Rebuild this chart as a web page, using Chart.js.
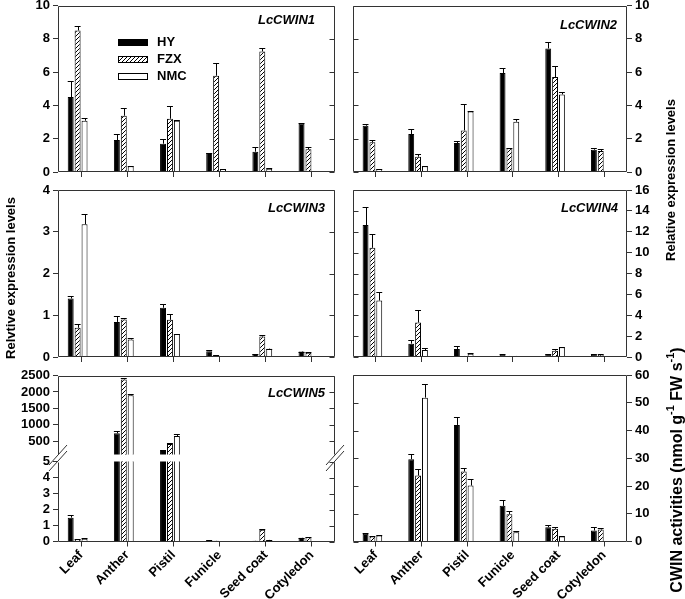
<!DOCTYPE html>
<html>
<head>
<meta charset="utf-8">
<script src="https://cdn.jsdelivr.net/npm/chart.js@4.4.1/dist/chart.umd.min.js"></script>
<style>
  body { margin: 0; background: #fff; }
  #wrap { position: relative; width: 685px; height: 599px; overflow: hidden; }
  #wrap canvas { position: absolute; left: 0; top: 0; }
</style>
</head>
<body>
<div id="wrap">
  <canvas id="p1" width="685" height="599"></canvas>
  <canvas id="p2" width="685" height="599"></canvas>
  <canvas id="p3" width="685" height="599"></canvas>
  <canvas id="p4" width="685" height="599"></canvas>
  <canvas id="p5a" width="685" height="599"></canvas>
  <canvas id="p5b" width="685" height="599"></canvas>
  <canvas id="p6" width="685" height="599"></canvas>
</div>
<script>
const tissues = ['Leaf', 'Anther', 'Pistil', 'Funicle', 'Seed coat', 'Cotyledon'];

// LcCWIN1
const w1HY = [4.5, 1.92, 1.7, 1.14, 1.22, 2.92];
const w1HYErr = [0.95, 0.38, 0.3, 0.02, 0.3, 0.04];
const w1FZX = [8.5, 3.38, 3.2, 5.78, 7.24, 1.36];
const w1FZXErr = [0.24, 0.48, 0.74, 0.74, 0.2, 0.16];
const w1NMC = [3.08, 0.34, 3.08, 0.18, 0.2, null];
const w1NMCErr = [0.16, 0.04, 0.03, 0.02, 0.02, null];

// LcCWIN2
const w2HY = [2.78, 2.28, 1.74, 5.94, 7.42, 1.34];
const w2HYErr = [0.08, 0.32, 0.12, 0.3, 0.36, 0.08];
const w2FZX = [1.78, 0.92, 2.5, 1.42, 5.7, 1.26];
const w2FZXErr = [0.12, 0.16, 1.58, 0.04, 0.64, 0.14];
const w2NMC = [0.18, 0.34, 3.64, 3.02, 4.66, null];
const w2NMCErr = [0, 0.02, 0.04, 0.18, 0.14, null];

// LcCWIN3
const w3HY = [1.4, 0.84, 1.18, 0.14, 0.07, 0.13];
const w3HYErr = [0.05, 0.15, 0.08, 0.02, 0, 0];
const w3FZX = [0.7, 0.9, 0.89, 0.04, 0.49, 0.1];
const w3FZXErr = [0.08, 0.03, 0.13, 0, 0.04, 0.02];
const w3NMC = [3.18, 0.42, 0.55, 0.02, 0.2, null];
const w3NMCErr = [0.24, 0.03, 0.01, 0, 0, null];

// LcCWIN4
const w4HY = [12.64, 1.28, 0.77, 0.22, 0.26, 0.26];
const w4HYErr = [1.76, 0.32, 0.32, 0.04, 0, 0.06];
const w4FZX = [10.46, 3.3, 0.1, 0.1, 0.6, 0.22];
const w4FZXErr = [1.28, 1.18, 0, 0, 0.17, 0.1];
const w4NMC = [5.41, 0.67, 0.32, 0.1, 0.93, null];
const w4NMCErr = [0.86, 0.23, 0.05, 0, 0.06, null];

// LcCWIN5 (broken axis)
const w5HY = [1.49, 745, 204, 0.08, 0.04, 0.23];
const w5HYErr = [0.15, 61, 20, 0.02, 0, 0.02];
const w5FZX = [0.13, 2378, 418, 0.04, 0.74, 0.27];
const w5FZXErr = [0.02, 40, 31, 0, 0.04, 0.03];
const w5NMC = [0.17, 1898, 663, null, 0.1, null];
const w5NMCErr = [0.02, 31, 61, null, 0.02, null];

// CWIN activities
const actHY = [2.76, 29.64, 42.0, 12.84, 5.16, 3.96];
const actHYErr = [0.2, 1.8, 3.0, 2.04, 0.96, 1.2];
const actFZX = [1.8, 23.76, 25.2, 9.84, 4.56, 4.32];
const actFZXErr = [0.2, 2.4, 1.2, 1.2, 0.84, 0.6];
const actNMC = [2.16, 51.84, 20.16, 3.36, 1.8, null];
const actNMCErr = [0.1, 4.8, 2.4, 0.6, 0.1, null];

// tick labels
const ticks1 = [0, 2, 4, 6, 8, 10];
const ticks2 = [0, 2, 4, 6, 8, 10];
const ticks3 = [0, 1, 2, 3, 4];
const ticks4 = [0, 2, 4, 6, 8, 10, 12, 14, 16];
const ticks5Low = [0, 1, 2, 3, 4, 5];
const ticks5High = [500, 1000, 1500, 2000, 2500];
const ticks6 = [0, 10, 20, 30, 40, 50, 60];

const W = 685, H = 599;
const Y_W = 45, X_H = 58;   // room kept for tick labels
const FONT = '"Liberation Sans", Arial, sans-serif';
Chart.defaults.font.family = FONT;
Chart.defaults.font.size = 13;
Chart.defaults.font.weight = 'bold';
Chart.defaults.color = '#000';

function makeHatch() {
  const c = document.createElement('canvas');
  c.width = c.height = 4;
  const g = c.getContext('2d');
  g.fillStyle = '#fff';
  g.fillRect(0, 0, 4, 4);
  g.strokeStyle = '#000';
  g.lineWidth = 1;
  g.beginPath();
  g.moveTo(0, 4); g.lineTo(4, 0);
  g.moveTo(-1, 1); g.lineTo(1, -1);
  g.moveTo(3, 5); g.lineTo(5, 3);
  g.stroke();
  return g.createPattern(c, 'repeat');
}
const hatch = makeHatch();

function barSets(hy, hyErr, fzx, fzxErr, nmc, nmcErr) {
  const common = { borderColor: '#000', borderWidth: 1, categoryPercentage: 0.6, barPercentage: 0.86, clip: 0 };
  return [
    Object.assign({ label: 'HY', data: hy, errors: hyErr, backgroundColor: '#000' }, common),
    Object.assign({ label: 'FZX', data: fzx, errors: fzxErr, backgroundColor: hatch }, common),
    Object.assign({ label: 'NMC', data: nmc, errors: nmcErr, backgroundColor: '#fff' }, common),
    // empty fourth slot, the groups in the original sit left of the tick
    Object.assign({ label: '', data: [] }, common)
  ];
}

const errorBars = {
  id: 'errorBars',
  afterDatasetsDraw(chart) {
    const { ctx, chartArea: a } = chart;
    const ys = chart.scales.y;
    ctx.save();
    ctx.beginPath();
    ctx.rect(a.left, a.top - 1, a.right - a.left, a.bottom - a.top + 1);
    ctx.clip();
    ctx.strokeStyle = '#000';
    ctx.lineWidth = 1;
    chart.data.datasets.forEach((ds, i) => {
      if (!ds.errors) return;
      chart.getDatasetMeta(i).data.forEach((bar, j) => {
        const v = ds.data[j], e = ds.errors[j];
        if (v == null || e == null) return;
        const top = v + e;
        if (top < ys.min || top > ys.max) return;
        const y0 = ys.getPixelForValue(Math.max(v, ys.min));
        const y1 = Math.round(ys.getPixelForValue(top)) + 0.5;
        const x = Math.round(bar.x) + 0.5;
        const hw = bar.width / 2;
        ctx.beginPath();
        ctx.moveTo(x, y0);
        ctx.lineTo(x, y1);
        ctx.moveTo(bar.x - hw, y1);
        ctx.lineTo(bar.x + hw, y1);
        ctx.stroke();
      });
    });
    ctx.restore();
  }
};

const frame = {
  id: 'frame',
  afterDraw(chart, args, o) {
    const { ctx, chartArea: a } = chart;
    const ys = chart.scales.y;
    const L = Math.round(a.left) + 0.5, R = Math.round(a.right) - 0.5;
    const T = Math.round(a.top) + 0.5, B = Math.round(a.bottom) - 0.5;
    const sides = o.sides || 'tlrb';
    ctx.save();
    ctx.strokeStyle = '#333';
    ctx.lineWidth = 1;
    ctx.beginPath();
    if (sides.includes('t')) { ctx.moveTo(L, T); ctx.lineTo(R, T); }
    if (sides.includes('b')) { ctx.moveTo(L, B); ctx.lineTo(R, B); }
    if (sides.includes('l')) { ctx.moveTo(L, T); ctx.lineTo(L, B); }
    if (sides.includes('r')) { ctx.moveTo(R, T); ctx.lineTo(R, B); }
    // inward ticks on the unlabeled side
    const right = ys.options.position === 'right';
    ys.ticks.forEach(t => {
      const py = Math.round(ys.getPixelForValue(t.value)) + 0.5;
      if (right) { ctx.moveTo(L, py); ctx.lineTo(L + 5, py); }
      else { ctx.moveTo(R, py); ctx.lineTo(R - 5, py); }
    });
    ctx.stroke();

    if (o.title) {
      ctx.fillStyle = '#000';
      ctx.font = 'italic bold 13px ' + FONT;
      ctx.textAlign = 'right';
      ctx.textBaseline = 'middle';
      ctx.fillText(o.title, a.right - o.titleRight, a.top + o.titleDown);
    }

    if (o.legend) {
      ctx.font = 'bold 13px ' + FONT;
      ctx.textAlign = 'left';
      ctx.textBaseline = 'middle';
      chart.data.datasets.forEach((ds, i) => {
        if (!ds.label) return;
        const cy = o.legend.y + i * o.legend.step;
        ctx.fillStyle = ds.backgroundColor;
        ctx.fillRect(o.legend.x, cy - 3, 30, 6);
        ctx.strokeStyle = '#000';
        ctx.strokeRect(o.legend.x + 0.5, cy - 2.5, 29, 6);
        ctx.fillStyle = '#000';
        ctx.fillText(ds.label, o.legend.x + 39, cy);
      });
    }
    ctx.restore();
  }
};

function vText(ctx, parts, cx, cy, size, supSize) {
  ctx.save();
  ctx.translate(cx, cy);
  ctx.rotate(-Math.PI / 2);
  ctx.fillStyle = '#000';
  ctx.textBaseline = 'middle';
  ctx.textAlign = 'left';
  let total = 0;
  parts.forEach(p => {
    ctx.font = 'bold ' + (p[1] ? supSize : size) + 'px ' + FONT;
    total += ctx.measureText(p[0]).width;
  });
  let x = -total / 2;
  parts.forEach(p => {
    ctx.font = 'bold ' + (p[1] ? supSize : size) + 'px ' + FONT;
    ctx.fillText(p[0], x, p[1] ? -size * 0.45 : 0);
    x += ctx.measureText(p[0]).width;
  });
  ctx.restore();
}

const annotations = {
  id: 'annotations',
  afterDraw(chart) {
    const ctx = chart.ctx;
    vText(ctx, [['Relvtive expression levels', false]], 11, 278, 13, 10);
    vText(ctx, [['Relative expression levels', false]], 671, 180, 13, 10);
    vText(ctx, [['CWIN activities (nmol g', false], ['-1', true], [' FW s', false], ['-1', true], [')', false]], 678, 470, 16, 11);
    // axis break marks of LcCWIN5
    ctx.save();
    ctx.strokeStyle = '#333';
    ctx.lineWidth = 1;
    ctx.beginPath();
    [58, 335].forEach(cx => {
      [-3, 3].forEach(d => {
        ctx.moveTo(cx - 9, 458 + 10 + d);
        ctx.lineTo(cx + 9, 458 - 10 + d);
      });
    });
    ctx.stroke();
    ctx.restore();
  }
};

function panel(id, p) {
  const right = p.side === 'right';
  const xh = p.xLabels ? X_H : 0;
  return new Chart(document.getElementById(id), {
    type: 'bar',
    data: { labels: tissues, datasets: p.sets },
    options: {
      responsive: false,
      animation: false,
      devicePixelRatio: 1,
      events: [],
      layout: {
        padding: {
          left: right ? p.box.l : p.box.l - Y_W,
          right: right ? W - p.box.r - Y_W : W - p.box.r,
          top: p.box.t,
          bottom: H - p.box.b - xh
        }
      },
      scales: {
        x: {
          display: p.xAxis !== false,
          grid: { offset: false, drawOnChartArea: false, color: '#333', tickLength: 5 },
          border: { display: false },
          ticks: { display: !!p.xLabels, maxRotation: 45, minRotation: 45, autoSkip: false, padding: 1 },
          afterFit: s => { s.height = xh; s.paddingLeft = 0; s.paddingRight = 0; }
        },
        y: {
          position: p.side,
          min: p.min,
          max: p.max,
          afterBuildTicks: s => { s.ticks = p.ticks.map(v => ({ value: v })); },
          grid: { drawOnChartArea: false, color: '#333', tickLength: 5 },
          border: { display: false },
          ticks: { padding: 3, autoSkip: false, callback: v => String(v) },
          afterFit: s => { s.width = Y_W; s.paddingTop = 0; s.paddingBottom = 0; }
        }
      },
      plugins: {
        legend: { display: false },
        tooltip: { enabled: false },
        frame: p.frame || {}
      }
    },
    plugins: [errorBars, frame].concat(p.extra || [])
  });
}

panel('p1', {
  box: { l: 58, t: 5.5, r: 335, b: 172 }, side: 'left', min: 0, max: 10, ticks: ticks1,
  sets: barSets(w1HY, w1HYErr, w1FZX, w1FZXErr, w1NMC, w1NMCErr),
  frame: { title: 'LcCWIN1', titleRight: 20, titleDown: 14.5, legend: { x: 118, y: 42, step: 17 } }
});
panel('p2', {
  box: { l: 353, t: 5.5, r: 627, b: 172 }, side: 'right', min: 0, max: 10, ticks: ticks2,
  sets: barSets(w2HY, w2HYErr, w2FZX, w2FZXErr, w2NMC, w2NMCErr),
  frame: { title: 'LcCWIN2', titleRight: 10, titleDown: 19.5 }
});
panel('p3', {
  box: { l: 58, t: 190, r: 335, b: 357 }, side: 'left', min: 0, max: 4, ticks: ticks3,
  sets: barSets(w3HY, w3HYErr, w3FZX, w3FZXErr, w3NMC, w3NMCErr),
  frame: { title: 'LcCWIN3', titleRight: 10, titleDown: 18 }
});
panel('p4', {
  box: { l: 353, t: 190, r: 627, b: 357 }, side: 'right', min: 0, max: 16, ticks: ticks4,
  sets: barSets(w4HY, w4HYErr, w4FZX, w4FZXErr, w4NMC, w4NMCErr),
  frame: { title: 'LcCWIN4', titleRight: 9, titleDown: 18 }
});
panel('p5a', {
  box: { l: 58, t: 375.5, r: 335, b: 454.5 }, side: 'left', min: 100, max: 2500, ticks: ticks5High,
  xAxis: false,
  sets: barSets(w5HY, w5HYErr, w5FZX, w5FZXErr, w5NMC, w5NMCErr),
  frame: { sides: 'tlr', title: 'LcCWIN5', titleRight: 10, titleDown: 18 }
});
panel('p5b', {
  box: { l: 58, t: 461.5, r: 335, b: 541.5 }, side: 'left', min: 0, max: 5, ticks: ticks5Low,
  xLabels: true,
  sets: barSets(w5HY, w5HYErr, w5FZX, w5FZXErr, w5NMC, w5NMCErr),
  frame: { sides: 'lrb' }
});
panel('p6', {
  box: { l: 353, t: 375, r: 627, b: 541.5 }, side: 'right', min: 0, max: 60, ticks: ticks6,
  xLabels: true,
  sets: barSets(actHY, actHYErr, actFZX, actFZXErr, actNMC, actNMCErr),
  extra: [annotations]
});
</script>
</body>
</html>
